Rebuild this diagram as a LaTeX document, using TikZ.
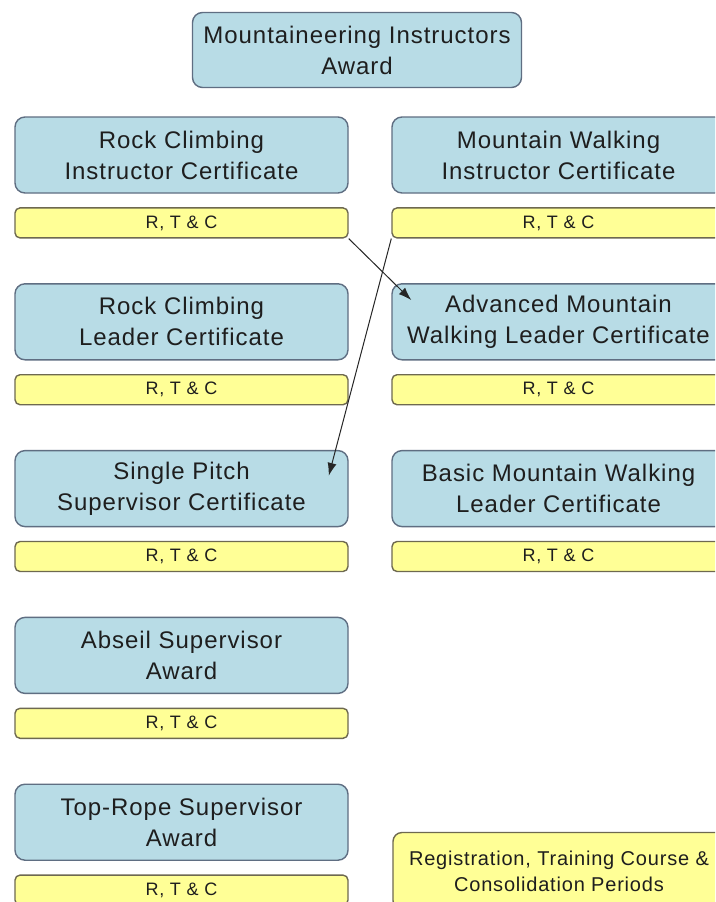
\documentclass[tikz,border=0pt]{standalone}
\usepackage{fontspec}
\setmainfont{Liberation Sans}[LetterSpace=4]
\usepackage{tikz}
\usetikzlibrary{positioning,arrows.meta}
\definecolor{awardblue}{RGB}{184,220,230}
\definecolor{awardedge}{RGB}{95,110,130}
\definecolor{rtcyellow}{RGB}{255,255,150}
\definecolor{rtcedge}{RGB}{110,105,80}
\definecolor{inktext}{RGB}{30,30,30}

\begin{document}
\begin{tikzpicture}[x=1pt, y=1pt, line width=1.4pt,
	award/.style={rectangle, rounded corners=10pt, draw=awardedge, fill=awardblue, text=inktext, align=center, minimum width=333pt, minimum height=76pt, inner sep=0pt, font=\fontsize{24}{31}\selectfont},
	rtc/.style={rectangle, rounded corners=5pt, draw=rtcedge, fill=rtcyellow, text=inktext, minimum width=333pt, minimum height=30pt, inner sep=0pt, font=\fontsize{18}{20}\selectfont},
	route/.style={line width=1pt, draw=black!85, -{Latex[length=13pt,width=9pt]}}]
		\clip (0,0) rectangle (715,-902);
		\fill[white] (0,0) rectangle (715,-902);
		\node[award, minimum width=329pt, minimum height=75pt] (mia) at (357,-50) {Mountaineering Instructors\\Award};
		% rock climbing column
		\node[award] (rci) at (181.5,-155) {Rock Climbing\\Instructor Certificate};
		\node[rtc, below=13.5pt of rci] (rcit) {R, T \& C};
		\node[award, below=44.5pt of rcit] (rcl) {Rock Climbing\\Leader Certificate};
		\node[rtc, below=13.5pt of rcl] (rclt) {R, T \& C};
		\node[award, below=44.5pt of rclt] (sps) {Single Pitch\\Supervisor Certificate};
		\node[rtc, below=13.5pt of sps] (spst) {R, T \& C};
		\node[award, below=44.5pt of spst] (asa) {Abseil Supervisor\\Award};
		\node[rtc, below=13.5pt of asa] (asat) {R, T \& C};
		\node[award, below=44.5pt of asat] (trs) {Top-Rope Supervisor\\Award};
		\node[rtc, below=13.5pt of trs] (trst) {R, T \& C};
		% mountain walking column
		\node[award] (mwi) at (558.5,-155) {Mountain Walking\\Instructor Certificate};
		\node[rtc, below=13.5pt of mwi] (mwit) {R, T \& C};
		\node[award, below=44.5pt of mwit] (amw) {Advanced Mountain\\Walking Leader Certificate};
		\node[rtc, below=13.5pt of amw] (amwt) {R, T \& C};
		\node[award, below=44.5pt of amwt] (bmw) {Basic Mountain Walking\\Leader Certificate};
		\node[rtc, below=13.5pt of bmw] (bmwt) {R, T \& C};
		% key
		\node[rtc, align=center, minimum width=332pt, minimum height=77pt, rounded corners=9pt, font=\fontsize{20}{26}\selectfont] (key) at (559,-871) {Registration, Training Course \&\\Consolidation Periods};
		\draw[route] (rcit.south east) -- ([xshift=20pt, yshift=-17pt]amw.north west);
		\draw[route] (mwit.south west) -- ([xshift=-20pt, yshift=-26pt]sps.north east);
	\end{tikzpicture}
\end{document}
